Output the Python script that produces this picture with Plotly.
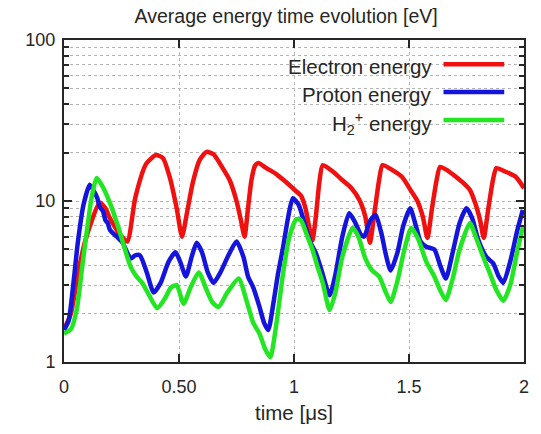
import plotly.graph_objects as go

# Electron energy [eV] vs time [us]
t_electron = [0.0, 0.03, 0.06, 0.09, 0.12, 0.155, 0.18, 0.2, 0.24, 0.275, 0.31, 0.357, 0.40,
              0.43, 0.46, 0.49, 0.513, 0.535, 0.56, 0.59, 0.62, 0.65, 0.69, 0.72, 0.75, 0.77,
              0.785, 0.80, 0.815, 0.83, 0.845, 0.88, 0.92, 0.96, 0.995, 1.03, 1.05, 1.065, 1.08,
              1.095, 1.11, 1.125, 1.17, 1.21, 1.25, 1.285, 1.31, 1.33, 1.35, 1.37, 1.385, 1.43,
              1.47, 1.51, 1.535, 1.56, 1.58, 1.60, 1.62, 1.635, 1.67, 1.705, 1.735, 1.765, 1.79,
              1.81, 1.825, 1.845, 1.865, 1.88, 1.92, 1.965, 2.0]
e_electron = [1.6, 2.0, 3.5, 5.5, 7.5, 9.8, 9.0, 7.8, 6.3, 5.6, 10.5, 17.0, 19.3,
              18.5, 14.0, 9.0, 6.0, 8.5, 13.0, 18.0, 20.2, 19.5, 16.0, 13.5, 10.0, 7.5,
              6.0, 9.0, 13.5, 16.5, 17.2, 16.0, 14.8, 13.3, 12.0, 10.8, 9.0, 7.0, 5.7,
              8.0, 13.0, 16.7, 15.2, 13.5, 12.0, 10.1, 8.0, 5.5, 8.5, 13.5, 16.7, 15.5,
              14.1, 11.5, 10.1, 8.0, 5.9, 9.0, 13.5, 16.3, 15.4, 14.1, 13.0, 11.7, 9.5,
              7.5, 5.9, 9.0, 13.5, 16.0, 15.2, 14.1, 12.0]

# Proton energy [eV]
t_proton = [0.0, 0.02, 0.04, 0.06, 0.085, 0.112, 0.13, 0.145, 0.155, 0.17, 0.18, 0.19, 0.2,
            0.23, 0.255, 0.29, 0.31, 0.33, 0.36, 0.39, 0.42, 0.455, 0.485, 0.505, 0.53, 0.555,
            0.577, 0.60, 0.625, 0.65, 0.68, 0.715, 0.75, 0.78, 0.80, 0.823, 0.85, 0.87, 0.888,
            0.91, 0.93, 0.953, 0.975, 0.995, 1.02, 1.05, 1.075, 1.095, 1.12, 1.155, 1.18, 1.21,
            1.24, 1.265, 1.29, 1.305, 1.33, 1.355, 1.38, 1.40, 1.42, 1.45, 1.475, 1.505, 1.53,
            1.55, 1.575, 1.61, 1.635, 1.66, 1.69, 1.72, 1.75, 1.775, 1.80, 1.836, 1.866, 1.89,
            1.91, 1.94, 1.97, 1.995]
e_proton = [1.58, 1.8, 3.0, 5.5, 9.5, 12.6, 11.5, 10.4, 9.2, 8.6, 7.6, 7.3, 6.6,
            6.0, 5.5, 4.4, 4.6, 4.6, 3.6, 2.7, 3.1, 4.2, 4.8, 4.2, 3.4, 4.5,
            5.5, 4.8, 3.6, 3.1, 3.6, 4.6, 5.6, 4.5, 3.4, 2.9, 2.2, 1.75, 1.58,
            2.3, 3.5, 5.2, 8.0, 10.4, 9.5, 6.9, 5.4, 4.75, 3.7, 2.6, 3.5, 6.0,
            8.4, 7.4, 6.2, 6.0, 7.5, 8.2, 6.3, 4.6, 3.7, 4.8, 7.0, 9.0, 7.0,
            5.6, 5.2, 5.0, 4.0, 3.3, 4.8, 7.3, 9.0, 7.8, 5.8, 4.5, 4.1, 3.4,
            3.1, 4.2, 6.5, 8.8]

# H2+ ion energy [eV]
t_h2 = [0.0, 0.03, 0.055, 0.08, 0.1, 0.12, 0.142, 0.165, 0.2, 0.24, 0.265, 0.29, 0.315,
        0.34, 0.37, 0.405, 0.44, 0.465, 0.49, 0.52, 0.55, 0.586, 0.62, 0.645, 0.672, 0.71,
        0.76, 0.79, 0.823, 0.85, 0.875, 0.897, 0.92, 0.94, 0.953, 0.98, 1.01, 1.03, 1.055,
        1.08, 1.1, 1.125, 1.155, 1.18, 1.21, 1.255, 1.28, 1.31, 1.34, 1.37, 1.395, 1.42,
        1.45, 1.48, 1.51, 1.54, 1.575, 1.61, 1.635, 1.66, 1.69, 1.72, 1.765, 1.79, 1.82,
        1.85, 1.88, 1.91, 1.94, 1.97, 1.995]
e_h2 = [1.5, 1.6, 2.1, 4.0, 6.6, 10.5, 13.9, 12.5, 9.7, 6.6, 5.0, 3.9, 3.4,
        3.1, 2.6, 2.16, 2.5, 2.9, 3.0, 2.3, 2.9, 3.6, 2.8, 2.35, 2.2, 2.7,
        3.3, 2.5, 1.75, 1.5, 1.2, 1.07, 1.6, 2.6, 3.6, 6.0, 7.7, 7.6, 6.2,
        5.0, 4.0, 3.1, 2.1, 2.7, 4.5, 6.8, 6.0, 4.4, 3.7, 3.4, 2.8, 2.36,
        3.2, 5.0, 6.8, 5.8, 4.2, 3.4, 2.8, 2.43, 3.3, 5.0, 7.3, 6.0, 4.6,
        3.6, 2.8, 2.4, 3.0, 4.8, 6.9]

series_names = ["Electron energy", "Proton energy", "H<sub>2</sub><sup>+</sup> energy"]
series_colors = ["#f01010", "#1414dc", "#22e622"]

x_tickvals = [0, 0.5, 1, 1.5, 2]
x_ticktext = ["0", "0.50", "1", "1.5", "2"]
y_tickvals = [1, 10, 100]
y_ticktext = ["1", "10", "100"]
y_minor = [m * d for d in (1, 10) for m in range(2, 10)]

FONT = "Liberation Sans, Arial, sans-serif"
INK = "#262626"

fig = go.Figure()
for t, e, name, color in zip([t_electron, t_proton, t_h2],
                             [e_electron, e_proton, e_h2],
                             series_names, series_colors):
    fig.add_trace(go.Scatter(
        x=t, y=e, mode="lines", name=name,
        line=dict(color=color, width=4.5, shape="spline", smoothing=0.6),
        showlegend=False,
    ))

# key box in the upper right, masking the grid behind it
fig.add_shape(type="rect", xref="paper", yref="paper",
              x0=0.418, x1=0.993, y0=0.711, y1=0.970,
              fillcolor="white", line=dict(width=0), layer="between")

key_rows = [0.925, 0.8385, 0.7516]
key_text_y = [0.919, 0.831, 0.742]
for name, color, yr, yt in zip(series_names, series_colors, key_rows, key_text_y):
    fig.add_annotation(text=name, xref="paper", yref="paper", x=0.804, y=yt,
                       xanchor="right", yanchor="middle", showarrow=False,
                       font=dict(family=FONT, size=20.5, color=INK))
    fig.add_shape(type="line", xref="paper", yref="paper",
                  x0=0.825, x1=0.957, y0=yr, y1=yr,
                  line=dict(color=color, width=4.5), layer="above")

fig.update_layout(
    width=541, height=434,
    margin=dict(l=64, r=13, t=40, b=72),
    paper_bgcolor="white", plot_bgcolor="white",
    font=dict(family=FONT, size=18, color=INK),
    title=dict(text="Average energy time evolution [eV]", x=0.529, xanchor="center",
               y=0.963, yanchor="middle", font=dict(family=FONT, size=19.5, color=INK)),
)

fig.update_xaxes(
    range=[0, 2], tickvals=x_tickvals, ticktext=x_ticktext,
    ticks="inside", ticklen=8, tickwidth=1.5, tickcolor=INK,
    showline=True, linecolor=INK, linewidth=2, mirror="ticks",
    showgrid=True, gridcolor="#b4b4b4", griddash="dot", gridwidth=1,
    zeroline=False,
    title=dict(text="time [μs]", standoff=10, font=dict(family=FONT, size=20.5)),
    tickfont=dict(family=FONT, size=18),
    ticklabelstandoff=7,
)

fig.update_yaxes(
    type="log", range=[0, 2], tickvals=y_tickvals, ticktext=y_ticktext,
    ticks="inside", ticklen=8, tickwidth=1.5, tickcolor=INK,
    showline=True, linecolor=INK, linewidth=2, mirror="ticks",
    showgrid=True, gridcolor="#b4b4b4", griddash="dot", gridwidth=1,
    zeroline=False,
    minor=dict(tickvals=y_minor, ticks="inside", ticklen=5, tickcolor=INK,
               showgrid=True, gridcolor="#b4b4b4", griddash="dot", gridwidth=1),
    tickfont=dict(family=FONT, size=18),
    ticklabelstandoff=3,
)

fig.write_html("out.html")
